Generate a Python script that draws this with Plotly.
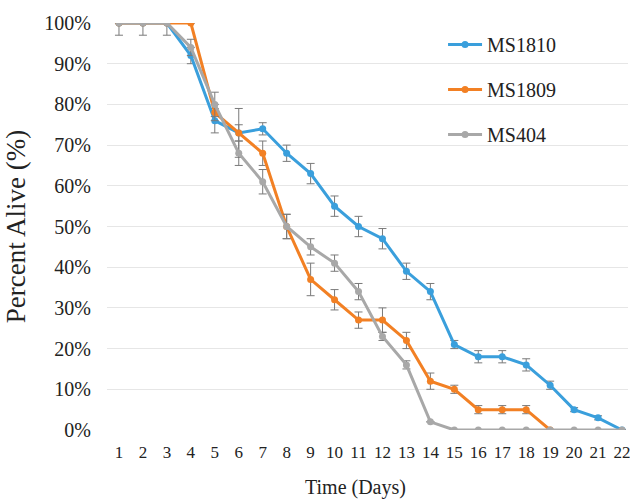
import plotly.graph_objects as go

days = list(range(1, 23))
ms1810 = [100, 100, 100, 92, 76, 73, 74, 68, 63, 55, 50, 47, 39, 34, 21, 18, 18, 16, 11, 5, 3, 0]
ms1810_err = [0, 0, 0, 2, 3, 2, 1.5, 2, 2.5, 2.5, 2.5, 2.5, 2, 2, 1, 1.5, 1.5, 1.5, 1, 0.5, 0.5, 0]
ms1809 = [100, 100, 100, 100, 78, 73, 68, 50, 37, 32, 27, 27, 22, 12, 10, 5, 5, 5, 0, None, None, None]
ms1809_err = [0, 0, 0, 0, 2, 6, 3, 3, 4, 2.5, 2, 3, 2, 2, 1, 1, 1, 1, 0, 0, 0, 0]
ms404 = [100, 100, 100, 94, 80, 68, 61, 50, 45, 41, 34, 23, 16, 2, 0, 0, 0, 0, 0, 0, 0, 0]
ms404_err = [3, 3, 3, 2, 3, 3, 3, 3, 2, 2, 2, 1, 1, 0, 0, 0, 0, 0, 0, 0, 0, 0]

series = [
    ("MS1810", ms1810, ms1810_err, "#3a9fdc"),
    ("MS1809", ms1809, ms1809_err, "#f28024"),
    ("MS404", ms404, ms404_err, "#a8a8a8"),
]

font_family = "Liberation Serif, Times New Roman, serif"

fig = go.Figure()
for i, (name, vals, err, color) in enumerate(series):
    y = [v / 100 if v is not None else None for v in vals]
    e = [v / 100 for v in err]
    fig.add_trace(go.Scatter(
        x=days, y=y, name=name, mode="lines+markers",
        line=dict(color=color, width=3),
        marker=dict(color=color, size=7, symbol="circle"),
        error_y=dict(type="data", array=e, visible=True, color="#7a7a7a", thickness=1, width=4),
        legendgroup=name,
    ))

fig.update_layout(
    width=630, height=502,
    margin=dict(l=107, r=2, t=23, b=72, autoexpand=False),
    paper_bgcolor="white", plot_bgcolor="white",
    font=dict(family=font_family, size=17, color="#222222"),
    showlegend=True,
    legend=dict(x=0.645, y=0.995, xanchor="left", yanchor="top",
                font=dict(size=20, family=font_family, color="#222222"),
                tracegroupgap=16, bgcolor="rgba(0,0,0,0)", itemwidth=34),
    xaxis=dict(range=[0.5, 22.25], tickmode="array", tickvals=days,
               ticktext=[str(d) for d in days], showgrid=False, zeroline=False,
               showline=False, ticks="", ticklabelstandoff=10, automargin=False,
               ticklabeloverflow="allow", tickfont=dict(size=17)),
    yaxis=dict(range=[0, 1], tickmode="array",
               tickvals=[i / 10 for i in range(11)],
               ticktext=[f"{i*10}%" for i in range(11)],
               showgrid=True, gridcolor="#e6e6e6", gridwidth=1, zeroline=False,
               showline=False, ticks="", ticklabelstandoff=15, automargin=False,
               tickfont=dict(size=20),
               title=dict(text="Percent Alive (%)", font=dict(size=27, family=font_family), standoff=10)),
    annotations=[dict(text="Time (Days)", xref="paper", yref="paper",
                      x=(355 - 107) / 521, y=-(487 - 430) / 407,
                      xanchor="center", yanchor="middle", showarrow=False,
                      font=dict(size=20, family=font_family, color="#222222"))],
)

fig.write_html("out.html", config={"displayModeBar": False},
               post_script="document.body.style.margin='0';")
